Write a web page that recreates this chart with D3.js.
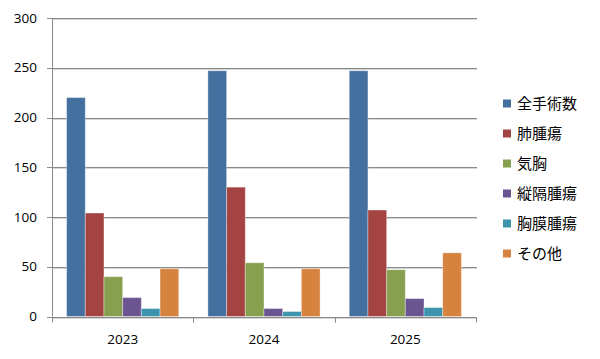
<!DOCTYPE html>
<html><head><meta charset="utf-8">
<script src="https://cdn.jsdelivr.net/npm/d3@7"></script>
<style>body{margin:0;background:#fff}svg{display:block}</style>
</head><body><svg id="c" width="600" height="359"></svg>
<script>
const categories = ["2023", "2024", "2025"];
const seriesNames = ["全手術数", "肺腫瘍", "気胸", "縦隔腫瘍", "胸膜腫瘍", "その他"];
const total = [220, 247, 247];
const lung = [104, 130, 107];
const pneumo = [40, 54, 47];
const mediastinal = [19, 8, 18];
const pleural = [8, 5, 9];
const other = [48, 48, 64];
const yTicks = [0, 50, 100, 150, 200, 250, 300];
const colors = ["#44709F", "#A44442", "#87A04F", "#6B5590", "#3D94AC", "#D6833F"];

const seriesValues = [total, lung, pneumo, mediastinal, pleural, other];
const svg = d3.select("#c");
const L = 52, R = 476, T = 18, B = 316.5;
const x = d3.scaleBand().domain(categories).range([L, R]).paddingInner(0).paddingOuter(0);
const y = d3.scaleLinear().domain([0, 300]).range([B, T]);
const xs = d3.scaleBand().domain(d3.range(seriesNames.length)).range([0, x.bandwidth()]).paddingInner(0).paddingOuter(0.78);

// gridlines
const g = svg.append("g");
yTicks.forEach(t => {
  const yy = Math.round(y(t)) + 0.5;
  g.append("line").attr("x1", L).attr("x2", R + 1).attr("y1", yy + 1).attr("y2", yy + 1).attr("stroke", "#d6d6d6");
  g.append("line").attr("x1", L - 5).attr("x2", R + 1).attr("y1", yy).attr("y2", yy).attr("stroke", "#8a8a8a");
});
// y axis line
g.append("line").attr("x1", L + 0.5).attr("x2", L + 0.5).attr("y1", y(300)).attr("y2", B).attr("stroke", "#8a8a8a");
// y labels
yTicks.forEach(t => {
  svg.append("text").attr("x", L - 15).attr("y", y(t)).attr("dy", "0.35em").attr("text-anchor", "end")
    .attr("font-family", "Open Sans").attr("font-size", 13.5).attr("fill", "#000").text(t);
});
// bars
categories.forEach((c, ci) => {
  seriesValues.forEach((arr, si) => {
    const v = arr[ci];
    svg.append("rect").attr("x", x(c) + xs(si)).attr("y", y(v)).attr("width", xs.bandwidth()).attr("height", B - y(v))
      .attr("fill", colors[si]).attr("stroke", "rgba(255,255,255,0.35)").attr("stroke-width", 1);
  });
});
// x axis
const bl = Math.round(B) + 0.5;
svg.append("line").attr("x1", L).attr("x2", R + 1).attr("y1", bl).attr("y2", bl).attr("stroke", "#8a8a8a");
categories.forEach((c, i) => {
  [x(c), x(c) + x.bandwidth()].forEach(xx => {
    svg.append("line").attr("x1", Math.round(xx) + 0.5).attr("x2", Math.round(xx) + 0.5).attr("y1", bl).attr("y2", bl + 5).attr("stroke", "#8a8a8a");
  });
  svg.append("text").attr("x", x(c) + x.bandwidth() / 2).attr("y", 339).attr("dy", "0.35em").attr("text-anchor", "middle")
    .attr("font-family", "Open Sans").attr("font-size", 13.5).attr("fill", "#000").text(c);
});
// legend
seriesNames.forEach((n, i) => {
  const yy = 103.5 + i * 30;
  svg.append("rect").attr("x", 503).attr("y", yy - 4).attr("width", 8).attr("height", 8).attr("fill", colors[i]);
  svg.append("text").attr("x", 517).attr("y", yy).attr("dy", "0.36em").attr("font-family", "Noto Sans CJK JP")
    .attr("font-size", 15).attr("fill", "#000").text(n);
});
</script></body></html>
